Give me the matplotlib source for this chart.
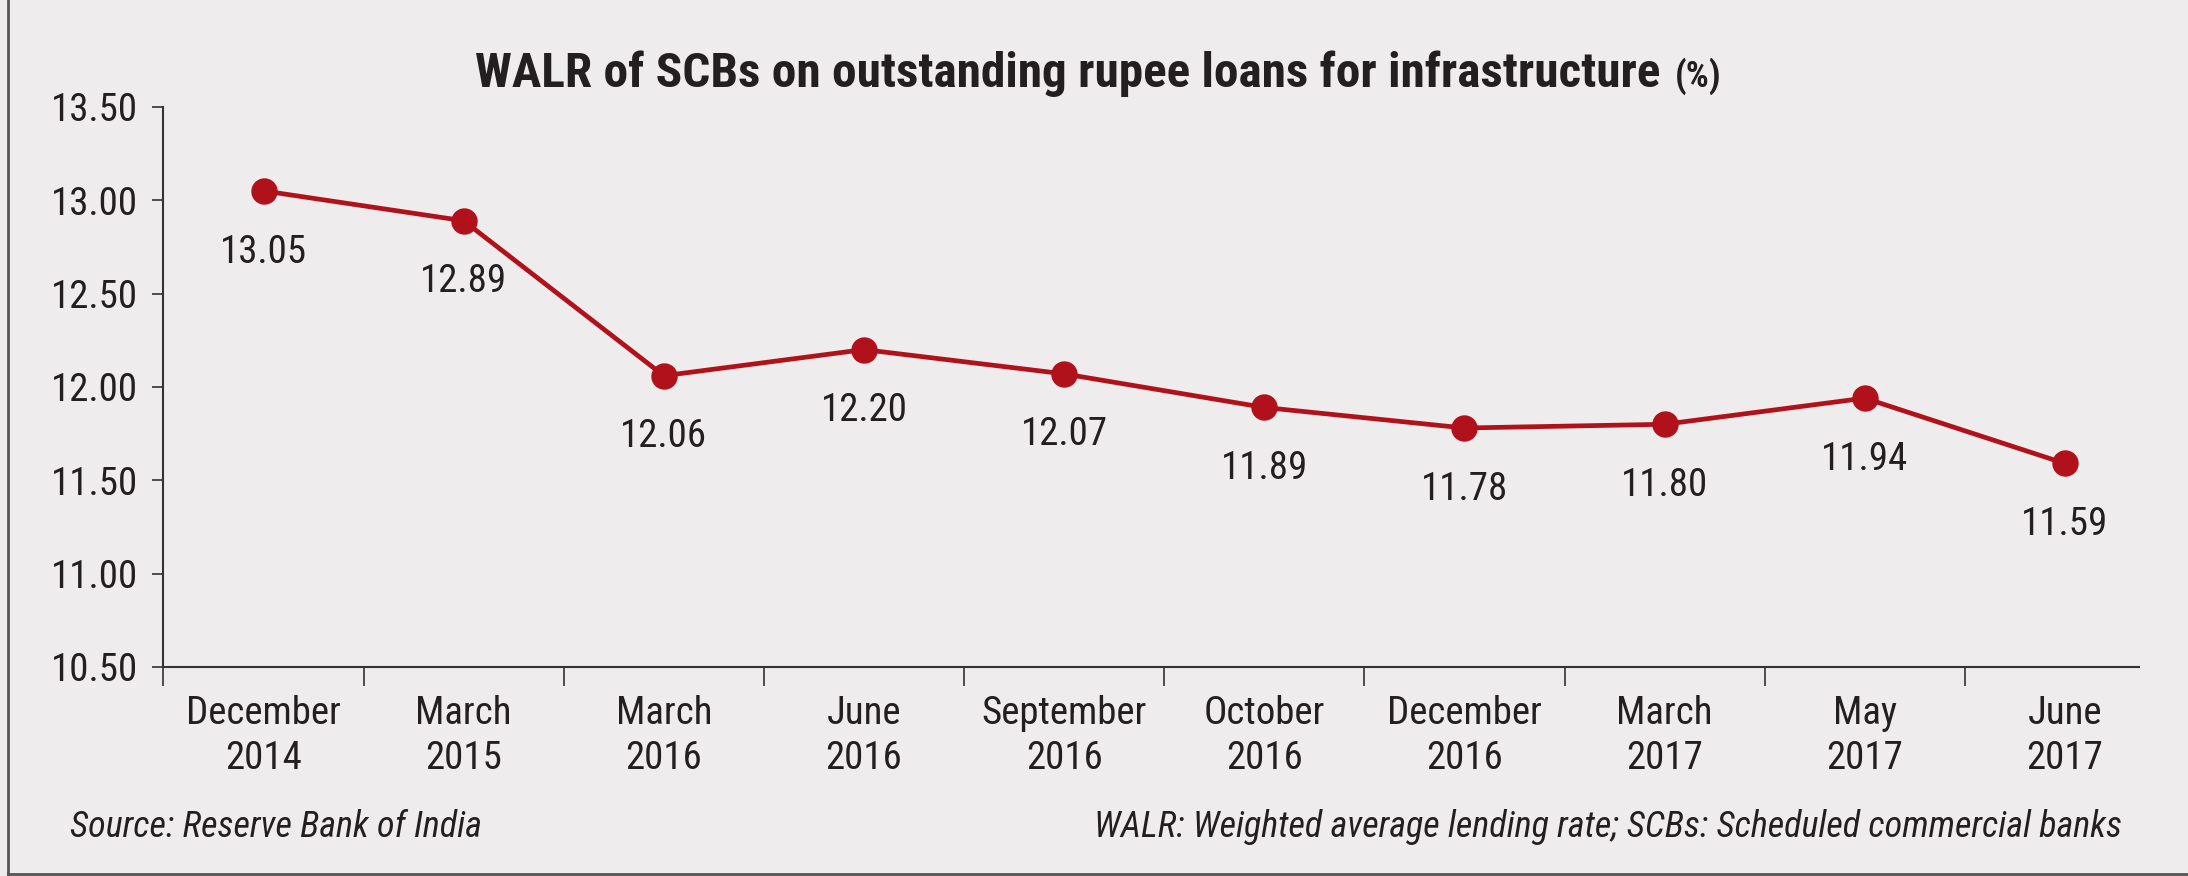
import matplotlib
matplotlib.use("Agg")
import matplotlib.pyplot as plt
from matplotlib.lines import Line2D
from matplotlib.ticker import FixedLocator, FormatStrFormatter

# ── data ──────────────────────────────────────────────────────────────────────
periods = ["December\n2014", "March\n2015", "March\n2016", "June\n2016",
           "September\n2016", "October\n2016", "December\n2016", "March\n2017",
           "May\n2017", "June\n2017"]
walr = [13.05, 12.89, 12.06, 12.20, 12.07, 11.89, 11.78, 11.80, 11.94, 11.59]
y_ticks = [10.50, 11.00, 11.50, 12.00, 12.50, 13.00, 13.50]

BG    = "#eeeced"
RED   = "#b0111b"
INK   = "#231f20"
NARROW = ["Liberation Sans Narrow", "Roboto Condensed", "DejaVu Sans"]

plt.rcParams["font.family"] = NARROW

fig = plt.figure(figsize=(21.88, 8.76), dpi=100)
fig.patch.set_facecolor(BG)
ax = fig.add_axes([0.0747, 0.2386, 0.9776 - 0.0747, 0.878 - 0.2386])
ax.set_facecolor(BG)

x = list(range(len(periods)))
ax.plot(x, walr, color=RED, lw=3.4, marker="o", ms=18, mfc=RED, mec=RED,
        solid_capstyle="round", zorder=3)

for xi, v in zip(x, walr):
    ax.annotate(f"{v:.2f}", (xi, v), xytext=(0, -44), textcoords="offset points",
                ha="center", va="center", fontsize=28, color=INK)

ax.set_xlim(-0.5, 9.37)
ax.set_ylim(10.5, 13.5)

ax.yaxis.set_major_locator(FixedLocator(y_ticks))
ax.yaxis.set_major_formatter(FormatStrFormatter("%.2f"))
ax.tick_params(axis="y", direction="out", length=8, width=1.2, color="#333333",
               pad=10, labelsize=28, labelcolor=INK)

ax.set_xticks(x)
ax.set_xticklabels(periods, linespacing=1.3)
ax.set_xticks([i - 0.5 for i in range(len(periods))], minor=True)
ax.tick_params(axis="x", which="major", length=0, pad=20, labelsize=28,
               labelcolor=INK)
ax.tick_params(axis="x", which="minor", direction="out", length=14, width=1.2,
               color="#333333")

for side in ("top", "right"):
    ax.spines[side].set_visible(False)
for side in ("left", "bottom"):
    ax.spines[side].set_color("#333333")
    ax.spines[side].set_linewidth(1.5)

# title, with the smaller "(%)" tacked on
fig.text(0.7587, 0.9007, "WALR of SCBs on outstanding rupee loans for infrastructure",
         ha="right", va="baseline", fontsize=35.5, fontweight="heavy", color=INK)
fig.text(0.7655, 0.9007, "(%)", ha="left", va="baseline", fontsize=26,
         fontweight="heavy", color=INK)

# footnotes
fig.text(0.032, 0.045, "Source: Reserve Bank of India", ha="left", va="baseline",
         fontsize=26, style="italic", color=INK)
fig.text(0.970, 0.045,
         "WALR: Weighted average lending rate; SCBs: Scheduled commercial banks",
         ha="right", va="baseline", fontsize=26, style="italic", color=INK)

# frame on the left and bottom edges
fig.add_artist(Line2D([0.0035, 0.0035], [0.002, 1.0], transform=fig.transFigure,
                      color="#555555", lw=2))
fig.add_artist(Line2D([0.0035, 1.0], [0.002, 0.002], transform=fig.transFigure,
                      color="#555555", lw=2))

fig.savefig("out.png", dpi=100, facecolor=BG)
